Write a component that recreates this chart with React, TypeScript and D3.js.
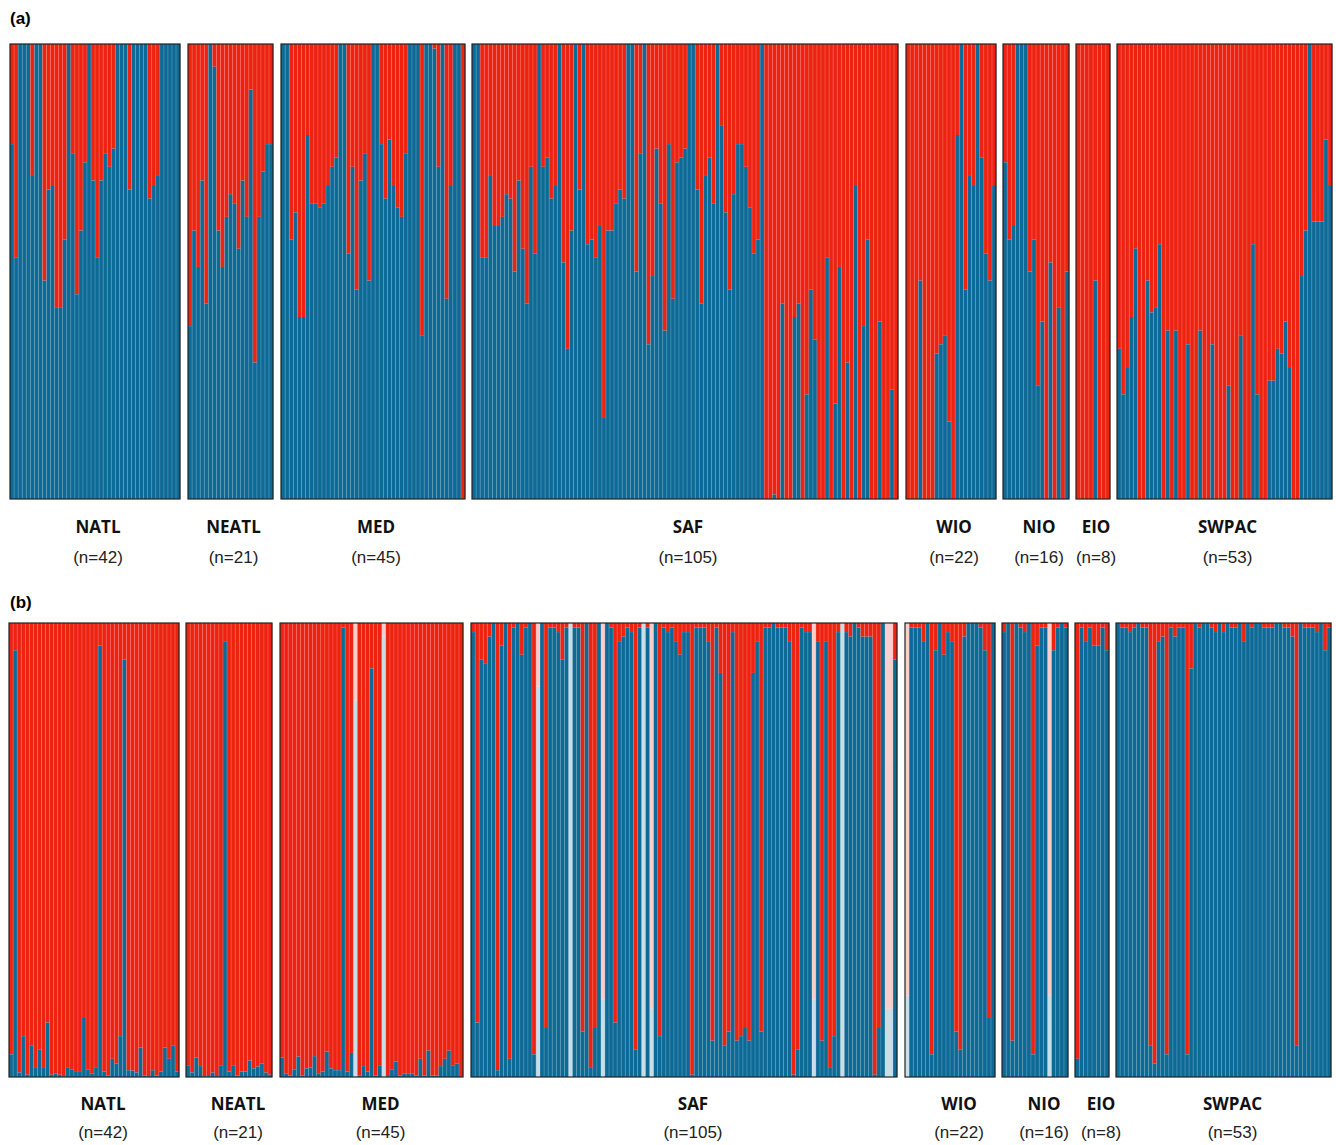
import { useEffect, useRef } from "react"
import * as d3 from "d3"

// populations and sample sizes
const pops = ["NATL", "NEATL", "MED", "SAF", "WIO", "NIO", "EIO", "SWPAC"]
const sizes = [42, 21, 45, 105, 22, 16, 8, 53]

// (a) blue-cluster membership per individual (red = 1 - blue)
const aNATL = [0.78, 0.53, 1, 1, 1, 0.71, 1, 1, 0.48, 0.68, 0.69, 0.42, 0.42, 0.57, 1, 0.76, 0.45, 0.59, 0.74, 1, 0.7, 0.53, 0.7, 0.76, 0.73, 0.77, 1, 1, 1, 0.68, 1, 1, 1, 1, 0.66, 0.69, 0.71, 1, 1, 1, 1, 1]
const aNEATL = [0.38, 0.59, 0.51, 0.7, 0.43, 1, 0.95, 0.59, 0.51, 0.62, 0.67, 0.65, 0.55, 0.7, 0.62, 0.9, 0.3, 0.62, 0.72, 0.78, 0.78]
const aMED = [1, 1, 0.57, 0.63, 0.4, 0.4, 0.8, 0.65, 0.65, 0.64, 0.65, 0.69, 0.73, 0.75, 1, 1, 0.54, 0.73, 0.46, 0.7, 0.76, 0.48, 1, 1, 0.78, 0.66, 0.79, 0.69, 0.64, 0.62, 0.76, 1, 1, 1, 0.36, 1, 1, 0.99, 0.73, 1, 0.44, 0.69, 1, 1, 0]
const aSAF = [1, 1, 0.53, 0.53, 0.71, 0.6, 0.6, 0.62, 0.67, 0.66, 0.5, 0.7, 0.55, 0.43, 0.73, 0.54, 1, 0.73, 0.75, 0.66, 0.69, 1, 0.52, 0.33, 0.59, 1, 0.68, 1, 0.56, 0.57, 0.53, 0.6, 0.18, 0.59, 0.59, 0.65, 0.68, 0.66, 1, 1, 0.5, 0.76, 1, 0.34, 0.49, 0.77, 0.65, 0.37, 0.78, 0.44, 0.74, 0.75, 0.77, 1, 1, 0.68, 0.43, 0.71, 0.75, 0.65, 1, 0.82, 0.63, 0.46, 0.67, 0.78, 0.78, 0.73, 0.64, 0.54, 0.57, 1,
  0, 0, 0.01, 0, 0.43, 0, 0, 0.4, 0.43, 0, 0.23, 0.46, 0.35, 0, 0, 0.53, 0, 0.21, 0.51, 0, 0.3, 0, 0.69, 0, 0.38, 0.57, 0, 0, 0.39, 0, 0, 0.24, 0]
const aWIO = [0, 0, 0, 0.48, 0, 0, 0, 0.32, 0.34, 0.36, 0.17, 0, 0.8, 1, 0.46, 0.71, 0.69, 1, 0.75, 0.54, 0.48, 0.69]
const aNIO = [0.74, 0.57, 0.6, 1, 1, 1, 0.5, 0.57, 0.25, 0.39, 0, 0.52, 0, 0.42, 0, 0.5]
const aEIO = [0, 0, 0, 0, 0.48, 0, 0, 0]
const aSWPAC = [0.33, 0.23, 0.29, 0.4, 0.55, 0, 0, 0.48, 0.41, 0.42, 0.56, 0, 0.37, 0, 0.37, 0, 0, 0.34, 0, 0, 0.37, 0, 0, 0.34, 0, 0, 0, 0.25, 0, 0, 0.36, 0, 0, 0.56, 0.23, 0, 0, 0.26, 0.26, 0.33, 0.32, 0.39, 0.29, 0, 0, 0.49, 0.59, 1, 0.61, 0.61, 0.61, 0.79, 0.69]

// (b)
const bNATL = [0.05, 0.94, 0.01, 0.09, 0.005, 0.07, 0.02, 0.06, 0.02, 0.12, 0.005, 0.008, 0.005, 0.002, 0.02, 0.017, 0.013, 0.013, 0.13, 0.017, 0.007, 0.02, 0.95, 0.012, 0.003, 0.04, 0.03, 0.09, 0.92, 0.015, 0.014, 0.01, 0.065, 0.003, 0.002, 0.015, 0.003, 0.012, 0.065, 0.04, 0.07, 0.012]
const bNEATL = [0.026, 0.01, 0.043, 0.024, 0.002, 0.002, 0.01, 0.002, 0.026, 0.96, 0.012, 0.026, 0.003, 0.012, 0.012, 0.036, 0.019, 0.023, 0.03, 0.01, 0.005]
const bMED = [0.043, 0.008, 0.003, 0.017, 0.045, 0.003, 0.019, 0.021, 0.046, 0.007, 0.012, 0.056, 0.019, 0.015, 0.015, 0.99, 0.012, 0.053, 0.83, 0.003, 0.024, 0.012, 0.9, 0.003, 0.026, 0.97, 0.002, 0.017, 0.034, 0.003, 0.008, 0.007, 0.008, 0.003, 0.04, 0.003, 0.058, 0.003, 0.003, 0.024, 0.04, 0.058, 0.026, 0.03, 0]
const bSAF = [0.98, 0.12, 0.92, 0.91, 0.97, 1, 0.015, 0.95, 1, 0.04, 0.99, 1, 0.93, 0.99, 1, 0.05, 0.86, 1, 0.11, 0.99, 0.99, 0.98, 0.92, 0.99, 1, 0.99, 0.99, 0.1, 1, 0.02, 0.11, 1, 0.17, 1, 0.99, 0.12, 0.96, 0.97, 0.99, 0.98, 0.06, 0.99, 1, 0.99, 0.15, 1, 0.09, 0.99, 0.98, 0.99, 0.96, 0.93, 0.98, 0.98, 0.005, 0.99, 0.99, 0.99, 0.96, 0.08, 0.99, 0.89, 0.07, 0.1, 0.98, 0.08, 0.09, 0.11, 0.08, 0.89, 0.96, 0.1, 0.99, 0.99, 1, 0.99, 0.99, 0.99, 0.96, 0.005, 0.06, 0.99, 0.98, 0.98, 0.17, 0.96, 0.08, 0.96, 0.02, 0.09, 0.98, 1, 0.98, 0.97, 1, 0.99, 0.97, 0.97, 0.97, 0.005, 0.11, 1, 0.15, 0.15, 0.92]
const bWIO = [0.18, 0.99, 0.99, 0.99, 0.96, 1, 0.05, 0.94, 1, 0.93, 0.98, 0.96, 0.1, 0.06, 0.97, 1, 1, 1, 0.99, 0.94, 0.13, 1]
const bNIO = [0.98, 1, 0.08, 1, 0.99, 0.98, 1, 0.05, 0.95, 0.99, 0.99, 0.18, 0.94, 0.99, 1, 0.99]
const bEIO = [0.04, 0.99, 0.96, 0.99, 0.95, 0.95, 0.99, 0.94]
const bSWPAC = [1, 0.99, 0.99, 0.98, 0.99, 1, 0.99, 0.99, 0.07, 0.03, 0.96, 0.97, 0.05, 0.99, 0.97, 0.99, 0.99, 0.05, 0.9, 1, 0.99, 1, 1, 0.99, 0.98, 1, 0.98, 1, 0.99, 0.99, 1, 0.96, 1, 0.99, 1, 1, 0.99, 0.99, 0.99, 1, 1, 0.99, 0.99, 0.97, 0.07, 1, 0.99, 0.99, 0.99, 0.98, 1, 0.94, 0.99]
// individuals with missing / faded bars in (b), by population and index
const bFaded: Record<string, number[]> = {
  MED: [18, 25],
  SAF: [16, 24, 32, 42, 44, 84, 91, 102, 103],
  WIO: [0],
  NIO: [11],
}

const panelA = [aNATL, aNEATL, aMED, aSAF, aWIO, aNIO, aEIO, aSWPAC]
const panelB = [bNATL, bNEATL, bMED, bSAF, bWIO, bNIO, bEIO, bSWPAC]

const BLUE = "#0d6a97"
const RED = "#ee2210"

export default function App() {
  const svgRef = useRef<SVGSVGElement>(null)

  useEffect(() => {
    if (!svgRef.current) return
    const svg = d3.select(svgRef.current)
    svg.selectAll("*").remove()

    const panels = [
      {
        tag: "(a)", tagY: 24, data: panelA, top: 44, bottom: 499,
        x0: [10, 188, 281, 472, 906, 1003, 1076, 1117],
        x1: [180, 273, 465, 898, 996, 1069, 1110, 1332],
        nameY: 533, nY: 563, shift: 3, faded: {} as Record<string, number[]>,
      },
      {
        tag: "(b)", tagY: 608, data: panelB, top: 623, bottom: 1077,
        x0: [9, 186, 280, 471, 905, 1002, 1075, 1116],
        x1: [179, 272, 463, 897, 995, 1068, 1109, 1331],
        nameY: 1110, nY: 1138, shift: 9, faded: bFaded,
      },
    ]

    panels.forEach((p) => {
      const y = d3.scaleLinear().domain([0, 1]).range([p.bottom, p.top])
      svg.append("text").attr("x", 10).attr("y", p.tagY).text(p.tag)
        .attr("font-family", "Liberation Sans, Arial").attr("font-weight", "bold").attr("font-size", 17)

      pops.forEach((pop, gi) => {
        const vals = p.data[gi]
        const x = d3.scaleBand<number>().domain(d3.range(vals.length)).range([p.x0[gi], p.x1[gi]])
        const g = svg.append("g")
        const faded = p.faded[pop] || []
        const bars = g.selectAll("g.ind").data(vals).enter().append("g")
          .attr("opacity", (_, i) => (faded.includes(i) ? 0.22 : 1))
        bars.append("rect")
          .attr("x", (_, i) => x(i)!).attr("width", x.bandwidth() + 0.2)
          .attr("y", p.top).attr("height", (d) => y(d) - p.top).attr("fill", RED)
        bars.append("rect")
          .attr("x", (_, i) => x(i)!).attr("width", x.bandwidth() + 0.2)
          .attr("y", (d) => y(d)).attr("height", (d) => p.bottom - y(d)).attr("fill", BLUE)
        // faint separators between individuals
        g.selectAll("rect.sep").data(vals.slice(1)).enter().append("rect")
          .attr("x", (_, i) => x(i + 1)! - 0.3).attr("width", 0.7)
          .attr("y", p.top).attr("height", p.bottom - p.top)
          .attr("fill", "#fff").attr("opacity", 0.3)
        g.append("rect")
          .attr("x", p.x0[gi]).attr("y", p.top)
          .attr("width", p.x1[gi] - p.x0[gi]).attr("height", p.bottom - p.top)
          .attr("fill", "none").attr("stroke", "#222").attr("stroke-width", 1.2)

        const cx = (p.x0[gi] + p.x1[gi]) / 2 + p.shift
        svg.append("text").attr("x", cx).attr("y", p.nameY).attr("text-anchor", "middle")
          .attr("font-family", "Open Sans, sans-serif").attr("font-weight", "bold").attr("font-size", 17)
          .attr("fill", "#111").text(pop)
        svg.append("text").attr("x", cx).attr("y", p.nY).attr("text-anchor", "middle")
          .attr("font-family", "Liberation Sans, Arial").attr("font-size", 17)
          .attr("fill", "#222").text(`(n=${sizes[gi]})`)
      })
    })
  }, [])

  return (
    <svg ref={svgRef} width={1336} height={1145}
      style={{ position: "absolute", left: 0, top: 0, background: "#fff" }} />
  )
}
